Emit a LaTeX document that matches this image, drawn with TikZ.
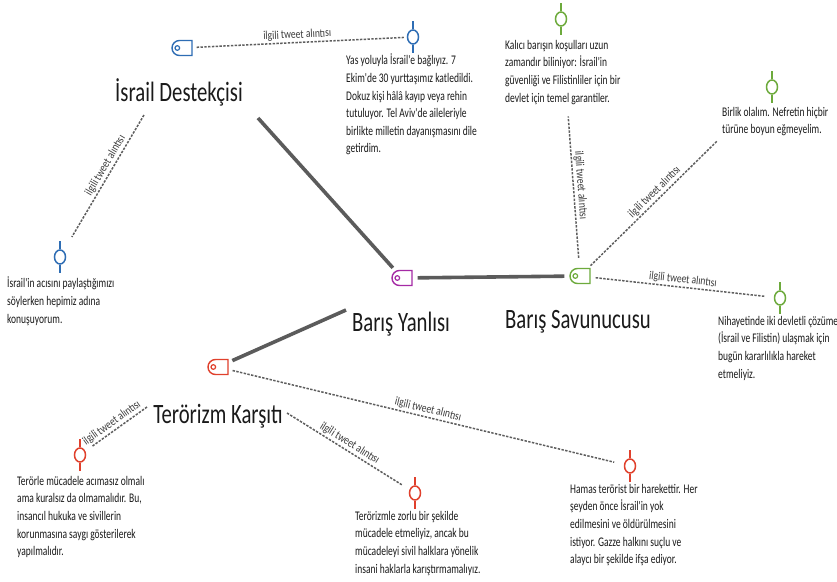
\documentclass[tikz,border=0pt]{standalone}
\usepackage{fontspec}
\setmainfont{Carlito}
\newfontfamily\bodyfont[FakeStretch=0.72]{Carlito}
\newfontfamily\labelfont[FakeStretch=0.8]{Carlito}
\newfontfamily\titlefont[FakeStretch=0.74]{Carlito}
\usetikzlibrary{shapes.misc,shapes.geometric}
\definecolor{cblue}{HTML}{2E6DB4}
\definecolor{cgreen}{HTML}{6DAA3C}
\definecolor{cred}{HTML}{E0402C}
\definecolor{cpurple}{HTML}{A52AA5}
\definecolor{cline}{HTML}{5B5B5B}
\definecolor{cdash}{HTML}{5E5E5E}
\definecolor{ctext}{HTML}{1A1A1A}
\begin{document}
\begin{tikzpicture}[x=1pt,y=-1pt,
  titlenode/.style={font=\titlefont\fontsize{28}{30}\selectfont, anchor=base, inner sep=1pt, text=ctext},
  bodytext/.style={font=\bodyfont\fontsize{13.2}{17.6}\selectfont, anchor=north west, align=left, inner sep=0pt, text=ctext, execute at begin node=\strut},
  lbl/.style={font=\labelfont\fontsize{12}{12}\selectfont, inner sep=1.5pt, text=ctext!85, sloped, above},
  tagicon/.style={shape=rounded rectangle, rounded rectangle right arc=none, draw=#1, line width=1.4pt, minimum width=20pt, minimum height=15pt, inner sep=0pt},
  pinicon/.style={shape=ellipse, draw=#1, line width=1.5pt, fill=white, minimum width=11pt, minimum height=14pt, inner sep=0pt},
  thickline/.style={draw=cline, line width=3.6pt},
  dline/.style={draw=cdash, line width=1.5pt, dash pattern=on 2.4pt off 1.4pt}
]
\useasboundingbox (0,0) rectangle (837,581);
\fill[white] (0,0) rectangle (837,581);

% titles
\node[titlenode] (titleI) at (179,101) {İsrail Destekçisi};
\node[titlenode] (titleY) at (401,331) {Barış Yanlısı};
\node[titlenode] (titleS) at (578,328) {Barış Savunucusu};
\node[titlenode] (titleT) at (218,423) {Terörizm Karşıtı};

% tag icons
\node[tagicon=cblue] (tagB) at (182,48) {};
\node[tagicon=cpurple] (tagP) at (402,278) {};
\node[tagicon=cgreen] (tagG) at (580,276) {};
\node[tagicon=cred] (tagR) at (218,367) {};
\foreach \t/\c in {tagB/cblue, tagP/cpurple, tagG/cgreen, tagR/cred}
  \draw[\c, line width=1.2pt] ([xshift=6pt]\t.west) circle[radius=2.3pt];

% pins
\node[pinicon=cblue] (pinB1) at (413,37) {};
\node[pinicon=cblue] (pinB2) at (60,257) {};
\node[pinicon=cgreen] (pinG1) at (561,19) {};
\node[pinicon=cgreen] (pinG2) at (772,87) {};
\node[pinicon=cgreen] (pinG3) at (780,298) {};
\node[pinicon=cred] (pinR1) at (80,455) {};
\node[pinicon=cred] (pinR2) at (415,493) {};
\node[pinicon=cred] (pinR3) at (630,466) {};
\foreach \p/\c in {pinB1/cblue, pinB2/cblue, pinG1/cgreen, pinG2/cgreen, pinG3/cgreen, pinR1/cred, pinR2/cred, pinR3/cred}{
  \draw[\c, line width=1.5pt] (\p.north) -- ++(0,-8);
  \draw[\c, line width=1.5pt] (\p.south) -- ++(0,8);
}

% texts
\node[bodytext] (txtB1) at (346,54) {Yas yoluyla İsrail'e bağlıyız. 7\\Ekim'de 30 yurttaşımız katledildi.\\Dokuz kişi hâlâ kayıp veya rehin\\tutuluyor. Tel Aviv'de aileleriyle\\birlikte milletin dayanışmasını dile\\getirdim.};
\node[bodytext] (txtB2) at (7,277) {İsrail'in acısını paylaştığımızı\\söylerken hepimiz adına\\konuşuyorum.};
\node[bodytext] (txtG1) at (505,40) {Kalıcı barışın koşulları uzun\\zamandır biliniyor: İsrail'in\\güvenliği ve Filistinliler için bir\\devlet için temel garantiler.};
\node[bodytext] (txtG2) at (722,107) {Birlik olalım. Nefretin hiçbir\\türüne boyun eğmeyelim.};
\node[bodytext] (txtG3) at (718,316) {Nihayetinde iki devletli çözüme\\(İsrail ve Filistin) ulaşmak için\\bugün kararlılıkla hareket\\etmeliyiz.};
\node[bodytext] (txtR1) at (17,476) {Terörle mücadele acımasız olmalı\\ama kuralsız da olmamalıdır. Bu,\\insancıl hukuka ve sivillerin\\korunmasına saygı gösterilerek\\yapılmalıdır.};
\node[bodytext] (txtR2) at (355,511) {Terörizmle zorlu bir şekilde\\mücadele etmeliyiz, ancak bu\\mücadeleyi sivil halklara yönelik\\insani haklarla karıştırmamalıyız.};
\node[bodytext] (txtR3) at (570,484) {Hamas terörist bir harekettir. Her\\şeyden önce İsrail'in yok\\edilmesini ve öldürülmesini\\istiyor. Gazze halkını suçlu ve\\alaycı bir şekilde ifşa ediyor.};

% connector end points
\coordinate (cI) at (258,118);
\coordinate (cI2) at (144,115);
\coordinate (cY) at (346,310);
\coordinate (cT1) at (287,413);
\coordinate (cT2) at (147,407);

% solid connectors
\draw[thickline, shorten >=4pt] (cI) -- (tagP);
\draw[thickline, shorten <=5pt, shorten >=5pt] (tagP) -- (tagG);
\draw[thickline, shorten <=4pt] (tagR) -- (cY);

% dashed connectors
\draw[dline, shorten <=4pt, shorten >=3pt] (tagB) -- node[lbl, pos=.49] {ilgili tweet alıntısı} (pinB1);
\draw[dline, shorten >=16pt] (cI2) -- node[lbl, pos=.4] {ilgili tweet alıntısı} (pinB2);
\draw[dline, shorten <=10pt, shorten >=90pt] (tagG) -- node[lbl, pos=.34] {ilgili tweet alıntısı} (pinG1);
\draw[dline, shorten <=3pt, shorten >=70pt] (tagG) -- node[lbl, pos=.4] {ilgili tweet alıntısı} (pinG2);
\draw[dline, shorten <=5pt, shorten >=9pt] (tagG) -- node[lbl, pos=.5] {ilgili tweet alıntısı} (pinG3);
\draw[dline, shorten <=4pt, shorten >=10pt] (tagR) -- node[lbl, pos=.5] {ilgili tweet alıntısı} (pinR3);
\draw[dline, shorten >=9pt] (cT1) -- node[lbl, pos=.48] {ilgili tweet alıntısı} (pinR2);
\draw[dline, shorten >=8pt] (cT2) -- node[lbl, pos=.5] {ilgili tweet alıntısı} (pinR1);
\end{tikzpicture}
\end{document}
